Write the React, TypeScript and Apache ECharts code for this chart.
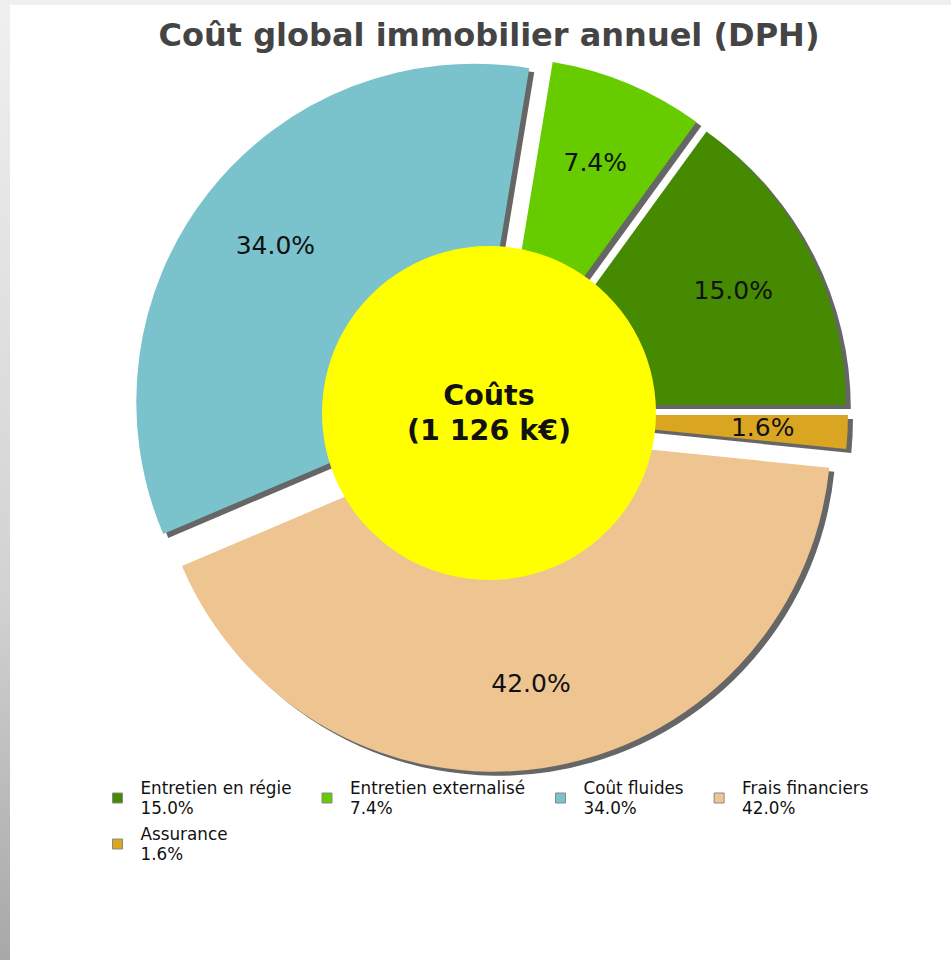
import React, { useEffect, useRef } from "react";
import * as echarts from "echarts";

const titleText = "Coût global immobilier annuel (DPH)";
const categories = ["Entretien en régie", "Entretien externalisé", "Coût fluides", "Frais financiers", "Assurance"];
const shares = [15.0, 7.4, 34.0, 42.0, 1.6];
const colors = ["#458a00", "#66cc00", "#7ac3cc", "#eec591", "#daa520"];
const centerName = "Coûts";
const totalKEuro = 1126;

const fmtThousands = (v: number) => String(v).replace(/\B(?=(\d{3})+(?!\d))/g, " ");

export default function App() {
  const ref = useRef<HTMLDivElement>(null);
  useEffect(() => {
    if (!ref.current) return;
    const chart = echarts.init(ref.current, null, { renderer: "svg" });
    const font = "DejaVu Sans";
    const sliceData = categories.map((name, i) => ({
      name,
      value: shares[i],
      selected: true,
      itemStyle: { color: colors[i] },
    }));
    const pieCommon = {
      type: "pie",
      startAngle: 0,
      clockwise: false,
      selectedMode: "multiple",
      selectedOffset: 20,
      avoidLabelOverlap: false,
      emphasis: { disabled: true },
      labelLine: { show: false },
    };
    const legendBase = {
      orient: "horizontal",
      icon: "rect",
      itemWidth: 10,
      itemHeight: 10,
      itemGap: 30,
      selectedMode: false,
      itemStyle: { borderColor: "#888", borderWidth: 1 },
      textStyle: { fontFamily: font, fontSize: 16.8, lineHeight: 20, color: "#111", padding: [0, 0, 0, 13] },
      formatter: (name: string) => {
        const i = categories.indexOf(name);
        return `${name}\n${shares[i].toFixed(1)}%`;
      },
    };
    chart.setOption({
      animation: false,
      backgroundColor: "transparent",
      title: {
        text: titleText,
        left: 484,
        textAlign: "center",
        top: 14,
        textStyle: { fontFamily: font, fontWeight: "bold", fontSize: 32, color: "#444" },
      },
      legend: [
        {
          ...legendBase,
          left: 107,
          top: 773,
          data: categories.slice(0, 4).map((n, i) => ({ name: n, itemStyle: { color: colors[i] } })),
        },
        {
          ...legendBase,
          left: 107,
          top: 819,
          data: categories.slice(4).map((n, i) => ({ name: n, itemStyle: { color: colors[4 + i] } })),
        },
      ],
      series: [
        {
          ...pieCommon,
          name: "main",
          z: 3,
          center: [490, 414],
          radius: [0, 338],
          label: { show: false },
          data: sliceData,
        },
        {
          ...pieCommon,
          name: "shadow",
          z: 2,
          silent: true,
          center: [495, 418],
          radius: [0, 338],
          label: { show: false },
          data: sliceData.map((d) => ({ ...d, itemStyle: { color: "#666666" } })),
        },
        {
          ...pieCommon,
          name: "centre",
          z: 5,
          silent: true,
          selectedMode: false,
          center: [489, 413],
          radius: [0, 167],
          itemStyle: { color: "#ffff00" },
          label: {
            show: true,
            position: "center",
            formatter: () => `${centerName}\n(${fmtThousands(totalKEuro)} k€)`,
            fontFamily: font,
            fontWeight: "bold",
            fontSize: 28.5,
            lineHeight: 35,
            color: "#111",
          },
          data: [{ name: centerName, value: totalKEuro }],
        },
        {
          ...pieCommon,
          name: "labels",
          z: 6,
          silent: true,
          center: [490, 414],
          radius: [162, 338],
          itemStyle: { color: "rgba(0,0,0,0)" },
          label: {
            show: true,
            position: "inside",
            formatter: (p: any) => `${Number(p.value).toFixed(1)}%`,
            fontFamily: font,
            fontSize: 25,
            color: "#111",
          },
          data: sliceData.map((d) => ({ ...d, itemStyle: { color: "rgba(0,0,0,0)" } })),
        },
      ],
    } as any);
    return () => chart.dispose();
  }, []);
  return (
    <div style={{ position: "absolute", left: 0, top: 0, width: 951, height: 960, background: "#f0f0f0", overflow: "hidden" }}>
      <div
        style={{
          position: "absolute",
          left: 0,
          top: 0,
          width: 10,
          height: 960,
          background: "linear-gradient(to bottom, #f0f0f0 0%, #d2d2d2 62%, #a8a8a8 100%)",
        }}
      />
      <div style={{ position: "absolute", left: 10, top: 5, right: 0, bottom: 0, background: "#ffffff" }} />
      <div ref={ref} style={{ position: "absolute", left: 0, top: 0, width: 951, height: 960 }} />
    </div>
  );
}
